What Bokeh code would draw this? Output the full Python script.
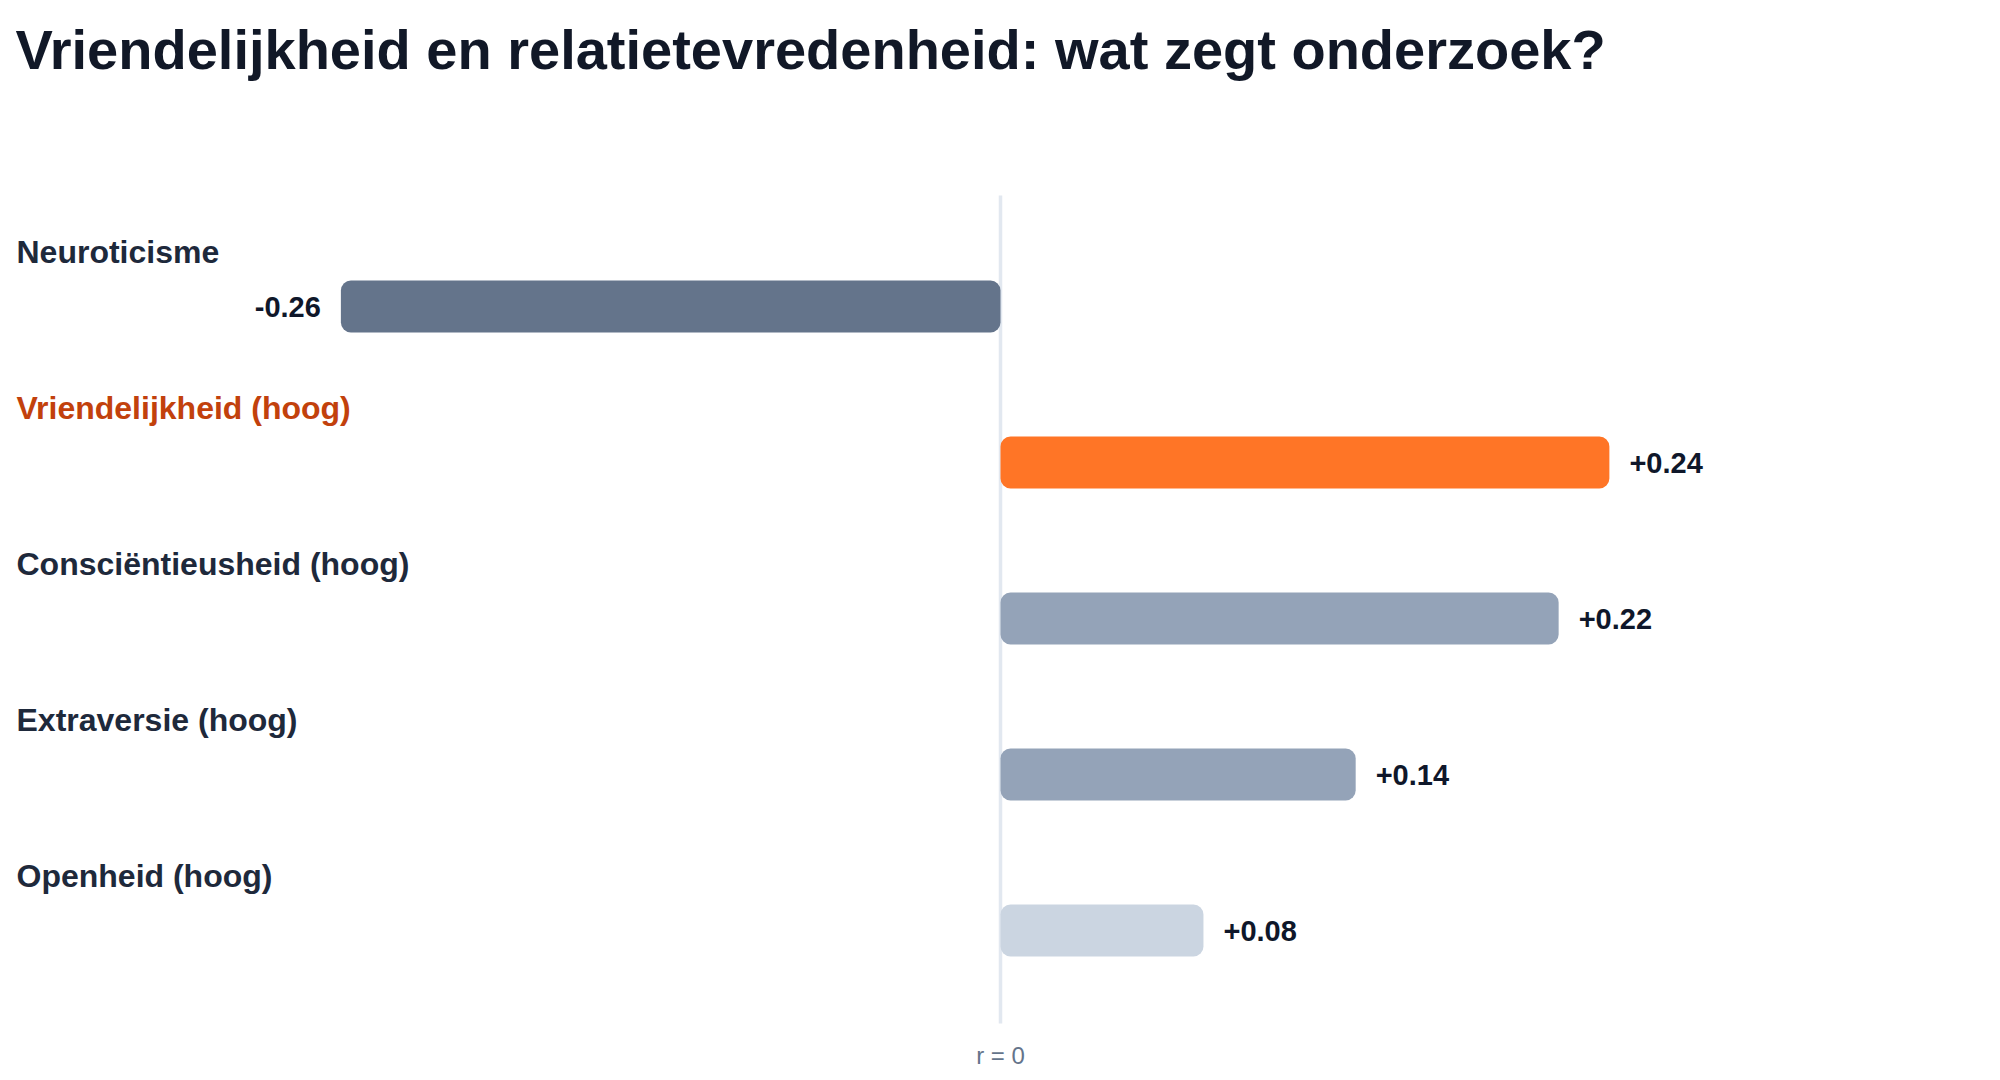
from bokeh.plotting import figure
from bokeh.models import Range1d, Label, ColumnDataSource
from bokeh.core.properties import value
from bokeh.embed import file_html
from bokeh.resources import INLINE

# ---- data ----
categories = ["Neuroticisme", "Vriendelijkheid (hoog)", "Consciëntieusheid (hoog)",
              "Extraversie (hoog)", "Openheid (hoog)"]
correlations = [-0.26, 0.24, 0.22, 0.14, 0.08]
bar_colors = ["#64748b", "#ff7526", "#94a3b8", "#94a3b8", "#cbd5e1"]
label_colors = ["#1e293b", "#c2410c", "#1e293b", "#1e293b", "#1e293b"]
title_text = "Vriendelijkheid en relatietevredenheid: wat zegt onderzoek?"
zero_label = "r = 0"

W, H = 2000, 1080
PX_X = 2537.0   # pixels per unit r
ROW = 156.0     # pixels per category row
FONT = value("Liberation Sans")

n = len(categories)
ypos = [n - 1 - i for i in range(n)]  # first category at top

x_range = Range1d(-1000.0 / PX_X, (W - 1000.0) / PX_X)
y_start = -150.0 / ROW
y_range = Range1d(y_start, y_start + H / ROW)

p = figure(width=W, height=H, x_range=x_range, y_range=y_range,
           output_backend="svg", toolbar_location=None,
           min_border=0, min_border_left=0, min_border_right=0,
           min_border_top=0, min_border_bottom=0,
           x_axis_location=None, y_axis_location=None)
p.grid.visible = False
p.outline_line_color = None
p.background_fill_color = "white"
p.border_fill_color = "white"

# zero line
top_y = y_range.end - 195.0 / ROW
bot_y = y_start + 57.0 / ROW
p.segment(x0=[0], y0=[bot_y], x1=[0], y1=[top_y], line_color="#e2e8f0", line_width=3.5)

src = ColumnDataSource(dict(
    y=ypos,
    v=correlations,
    color=bar_colors,
    lcolor=label_colors,
    cat=categories,
    vtxt=[("+%.2f" % c) if c > 0 else ("%.2f" % c) for c in correlations],
    ly=[y + 54.5 / ROW for y in ypos],
    lx=[x_range.start] * n,
    align=["left" if c > 0 else "right" for c in correlations],
    xoff=[20 if c > 0 else -20 for c in correlations],
))

p.hbar(y="y", left=0, right="v", height=52.0 / ROW, fill_color="color",
       line_color=None, border_radius=10, source=src)

# category labels
p.text(x="lx", y="ly", text="cat", x_offset=16, text_color="lcolor",
       text_font=FONT, text_font_style="bold", text_font_size="32px",
       text_baseline="alphabetic", text_align="left", source=src)

# value labels
p.text(x="v", y="y", text="vtxt", x_offset="xoff", text_align="align",
       text_baseline="middle", text_color="#0f172a", text_font=FONT,
       text_font_style="bold", text_font_size="29px", source=src)

# title
p.add_layout(Label(x=15, y=H - 49, x_units="screen", y_units="screen",
                   text=title_text, text_font="Liberation Sans",
                   text_font_style="bold", text_font_size="56px",
                   text_color="#111827", text_baseline="alphabetic"))

# zero label
p.add_layout(Label(x=0, y=H - 1055, x_units="data", y_units="screen",
                   text=zero_label, text_font="Liberation Sans",
                   text_font_size="24px", text_color="#64748b",
                   text_align="center", text_baseline="alphabetic"))

open("out.html", "w").write(file_html(p, INLINE))
